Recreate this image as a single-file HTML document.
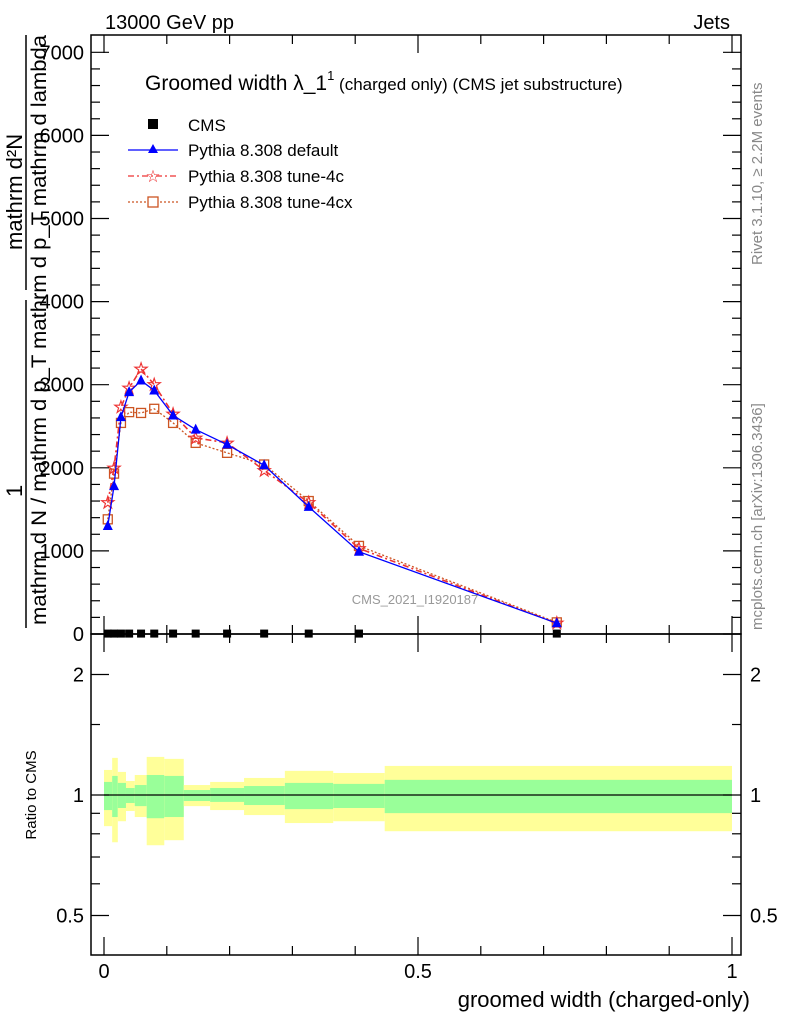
<!DOCTYPE html>
<html><head><meta charset="utf-8"><style>
html,body{margin:0;padding:0;background:#fff}
svg{display:block;font-family:"Liberation Sans",sans-serif}
</style></head><body>
<svg id="c" width="786" height="1024" viewBox="0 0 786 1024" xmlns="http://www.w3.org/2000/svg">
<g id="bands"></g>
<g id="main"></g>
<g id="axes"></g>
<text x="105" y="29" font-size="20">13000 GeV pp</text>
<text x="730" y="29" font-size="20" text-anchor="end">Jets</text>
<text x="145" y="90" font-size="21">Groomed width λ_1<tspan font-size="13" dy="-10">1</tspan><tspan font-size="17" dy="10"> (charged only) (CMS jet substructure)</tspan></text>
<g>
 <g><rect x="148" y="119" width="10" height="10" fill="#000"/><text x="188" y="131" font-size="17">CMS</text></g>
 <g><line x1="128" y1="150" x2="178" y2="150" stroke="#0000ff" stroke-width="1.3"/><polygon points="153,144 158,153 148,153" fill="#0000ff"/><text x="188" y="156" font-size="17">Pythia 8.308 default</text></g>
 <g><line x1="128" y1="176" x2="178" y2="176" stroke="#ee3333" stroke-width="1.3" stroke-dasharray="6,3,2,3"/><text x="153" y="182" font-size="17" fill="#ee3333" text-anchor="middle">☆</text><text x="188" y="182" font-size="17">Pythia 8.308 tune-4c</text></g>
 <g><line x1="128" y1="202" x2="178" y2="202" stroke="#cc5522" stroke-width="1.3" stroke-dasharray="2,2"/><rect x="148" y="197" width="10" height="10" fill="#fff" stroke="#cc5522" stroke-width="1.3"/><text x="188" y="208" font-size="17">Pythia 8.308 tune-4cx</text></g>
</g>
<text x="415" y="604" font-size="13" fill="#999" text-anchor="middle">CMS_2021_I1920187</text>
<text transform="translate(762,265) rotate(-90)" font-size="15" fill="#888">Rivet 3.1.10, ≥ 2.2M events</text>
<text transform="translate(762,630) rotate(-90)" font-size="15" fill="#888">mcplots.cern.ch [arXiv:1306.3436]</text>
<g>
 <text transform="translate(22,250) rotate(-90)" font-size="22">mathrm d²N</text>
 <text transform="translate(22,497) rotate(-90)" font-size="22">1</text>
 <line x1="26" y1="35" x2="26" y2="290" stroke="#000" stroke-width="1.5"/>
 <line x1="26" y1="300" x2="26" y2="628" stroke="#000" stroke-width="1.5"/>
 <text transform="translate(46,625) rotate(-90)" font-size="21" textLength="590" lengthAdjust="spacingAndGlyphs">mathrm d N / mathrm d p_T mathrm d p_T mathrm d lambda</text>
</g>
<text transform="translate(36,795) rotate(-90)" font-size="15" text-anchor="middle">Ratio to CMS</text>
<text x="750" y="1007" font-size="22" text-anchor="end">groomed width (charged-only)</text>
</svg>
<script>
const xEdges=[0,0.013,0.022,0.035,0.049,0.068,0.096,0.127,0.169,0.223,0.288,0.365,0.447,1.0];
const xCenters=[0.006,0.016,0.027,0.040,0.059,0.080,0.110,0.146,0.196,0.255,0.326,0.406,0.721];
const cmsVals=[5,5,5,5,5,5,5,5,5,5,5,5,5];
const defaultVals=[1300,1780,2610,2910,3050,2930,2630,2460,2280,2030,1530,990,130];
const tune4cVals=[1580,2000,2730,2960,3190,3000,2650,2360,2300,1970,1580,1030,130];
const tune4cxVals=[1380,1930,2540,2670,2660,2710,2540,2300,2180,2040,1600,1060,140];
const yellowUp=[1.155,1.238,1.142,1.084,1.122,1.245,1.231,1.059,1.078,1.103,1.149,1.135,1.182];
const yellowDn=[0.836,0.762,0.860,0.912,0.881,0.749,0.771,0.938,0.917,0.891,0.851,0.860,0.812];
const greenUp=[1.078,1.116,1.072,1.041,1.059,1.122,1.116,1.029,1.041,1.053,1.072,1.066,1.091];
const greenDn=[0.917,0.881,0.928,0.955,0.938,0.875,0.881,0.966,0.961,0.944,0.922,0.928,0.901];
const yTicks=[0,1000,2000,3000,4000,5000,6000,7000];
const yTickLabels=["0","1000","2000","3000","4000","5000","6000","7000"];
const rTicks=[0.5,1,2];
const rTickLabels=["0.5","1","2"];
const xTicks=[0,0.5,1];
const xTickLabels=["0","0.5","1"];

const NS="http://www.w3.org/2000/svg";
const L=91,R=741,T=35,B=634,RB=955;
const X=v=>104+v*628;
const Y=v=>634-v*0.0831;
const RY=v=>795-Math.log2(v)*120.5;
function mk(p,tag,at){const e=document.createElementNS(NS,tag);for(const k in at)e.setAttribute(k,at[k]);p.appendChild(e);return e;}
const bands=document.getElementById('bands'),main=document.getElementById('main'),axes=document.getElementById('axes');

for(let i=0;i<xCenters.length;i++){
 const x0=X(xEdges[i]),x1=Math.min(X(xEdges[i+1]),R);
 const y=mk(bands,'rect',{x:x0,y:RY(yellowUp[i]),width:x1-x0,height:RY(yellowDn[i])-RY(yellowUp[i]),fill:'#ffff99'});
 
 
 const g=mk(bands,'rect',{x:x0,y:RY(greenUp[i]),width:x1-x0,height:RY(greenDn[i])-RY(greenUp[i]),fill:'#99ff99'});
 
 
}
const one=mk(bands,'line',{x1:X(0),x2:X(1),y1:RY(1),y2:RY(1),stroke:'#000','stroke-width':1.3});



function series(vals,color,dash,name,marker){
 const pts=vals.map((v,i)=>X(xCenters[i])+','+Y(v)).join(' ');
 const pl=mk(main,'polyline',{points:pts,fill:'none',stroke:color,'stroke-width':marker==='star'?1.6:1.3,'stroke-dasharray':dash});
 
 
 vals.forEach((v,i)=>{
  const cx=X(xCenters[i]),cy=Y(v);let m;
  if(marker==='tri')m=mk(main,'polygon',{points:`${cx},${cy-6} ${cx+5},${cy+4} ${cx-5},${cy+4}`,fill:color});
  else if(marker==='sq')m=mk(main,'rect',{x:cx-4.5,y:cy-4.5,width:9,height:9,fill:'none',stroke:color,'stroke-width':1.3});
  else if(marker==='star'){m=mk(main,'text',{x:cx,y:cy+6,'font-size':18,fill:color,stroke:color,'stroke-width':0.6,'text-anchor':'middle'});m.textContent='☆';}
  else m=mk(main,'rect',{x:cx-4,y:cy-4,width:8,height:8,fill:color});
  
  
 });
}
series(tune4cxVals,'#cc5522','2,2','tune-4cx','sq');
series(tune4cVals,'#ee3333','6,3,2,3','tune-4c','star');
series(defaultVals,'#0000ff','','default','tri');
cmsVals.forEach((v,i)=>{const m=mk(main,'rect',{x:X(xCenters[i])-4,y:Y(v)-4,width:8,height:8,fill:'#000'});
 
 });

[[T,B],[B,RB]].forEach(([t,b])=>{const f=mk(axes,'rect',{x:L,y:t,width:R-L,height:b-t,fill:'none',stroke:'#000','stroke-width':1.5});
 
 });
for(let v=0;v<=7000;v+=200){const y=Y(v);if(y<T)continue;const big=v%1000===0;const l=big?18:9;
 mk(axes,'line',{x1:L,x2:L+l,y1:y,y2:y,stroke:'#000','stroke-width':1.2});
 mk(axes,'line',{x1:R,x2:R-l,y1:y,y2:y,stroke:'#000','stroke-width':1.2});}
yTicks.forEach((v,i)=>{const t=mk(axes,'text',{x:84,y:Y(v)+7,'font-size':20,'text-anchor':'end'});t.textContent=yTickLabels[i];
 
 });
[0.5,0.6,0.7,0.8,0.9,1,1.5,2].forEach(v=>{const y=RY(v);const big=rTicks.includes(v);const l=big?18:9;
 mk(axes,'line',{x1:L,x2:L+l,y1:y,y2:y,stroke:'#000','stroke-width':1.2});
 mk(axes,'line',{x1:R,x2:R-l,y1:y,y2:y,stroke:'#000','stroke-width':1.2});});
rTicks.forEach((v,i)=>{[[84,'end'],[750,'start']].forEach(([x,a])=>{const t=mk(axes,'text',{x:x,y:RY(v)+7,'font-size':20,'text-anchor':a});t.textContent=rTickLabels[i];
 
 });});
for(let k=0;k<=10;k++){const v=k/10,x=X(v);const big=k%5===0;const l=big?18:9;
 [[B,-1],[RB,-1],[T,1],[B,1]].forEach(([y,d])=>mk(axes,'line',{x1:x,x2:x,y1:y,y2:y+d*l,stroke:'#000','stroke-width':1.2}));}
xTicks.forEach((v,i)=>{const t=mk(axes,'text',{x:X(v),y:978,'font-size':20,'text-anchor':'middle'});t.textContent=xTickLabels[i];
 
 });
</script>
</body></html>
